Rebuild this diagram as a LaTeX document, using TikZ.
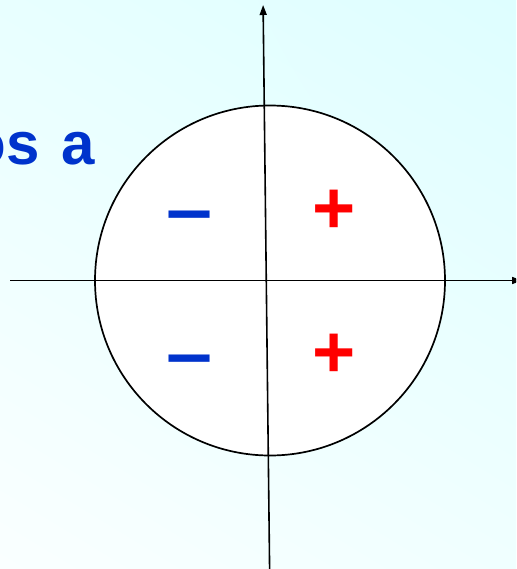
\documentclass[tikz,border=0pt]{standalone}
\usepackage{fontspec}
\setmainfont{Liberation Sans}
\usetikzlibrary{arrows.meta,shadings}
\definecolor{signblue}{RGB}{0,51,204}
\definecolor{signred}{RGB}{255,0,0}
\definecolor{bgtl}{RGB}{232,255,255}
\definecolor{bgtr}{RGB}{222,254,255}
\definecolor{bgbl}{RGB}{250,255,255}
\definecolor{bgbr}{RGB}{240,255,255}
\tikzset{
  axis/.style={line width=1.6pt, -{Triangle[length=10pt,width=7pt]}},
  ring/.style={line width=1.7pt, fill=white},
  minussign/.style={inner sep=0pt, anchor=base, text=signblue, font=\fontsize{74}{80}\selectfont\bfseries},
  plussign/.style={inner sep=0pt, anchor=base, text=signred, font=\fontsize{74}{80}\selectfont\bfseries},
  titletext/.style={inner sep=0pt, anchor=base east, text=signblue, font=\fontsize{60}{66}\selectfont\bfseries}
}
\begin{document}
\begin{tikzpicture}[x=1pt,y=-1pt]
\useasboundingbox (0,0) rectangle (516,569);
\clip (0,0) rectangle (516,569);
\shade[upper left=bgtl, upper right=bgtr, lower left=bgbl, lower right=bgbr] (0,0) rectangle (516,569);
\node[titletext] (title) at (95,165) {os\hspace{5pt} a};
\draw[ring] (270,280.5) circle (175);
\coordinate (xstart) at (10,280.5);
\coordinate (xend) at (522,280.5);
\coordinate (ystart) at (269.6,569);
\coordinate (yend) at (263.1,5);
\draw[axis] (xstart) -- (xend);
\draw[axis] (ystart) -- (yend);
\node[minussign, xscale=1.12] (m1) at (190,234.6) {–};
\node[minussign, xscale=1.12] (m2) at (190,378.6) {–};
\node[plussign] (p1) at (334.5,233.1) {+};
\node[plussign] (p2) at (334.5,377) {+};
\end{tikzpicture}
\end{document}
